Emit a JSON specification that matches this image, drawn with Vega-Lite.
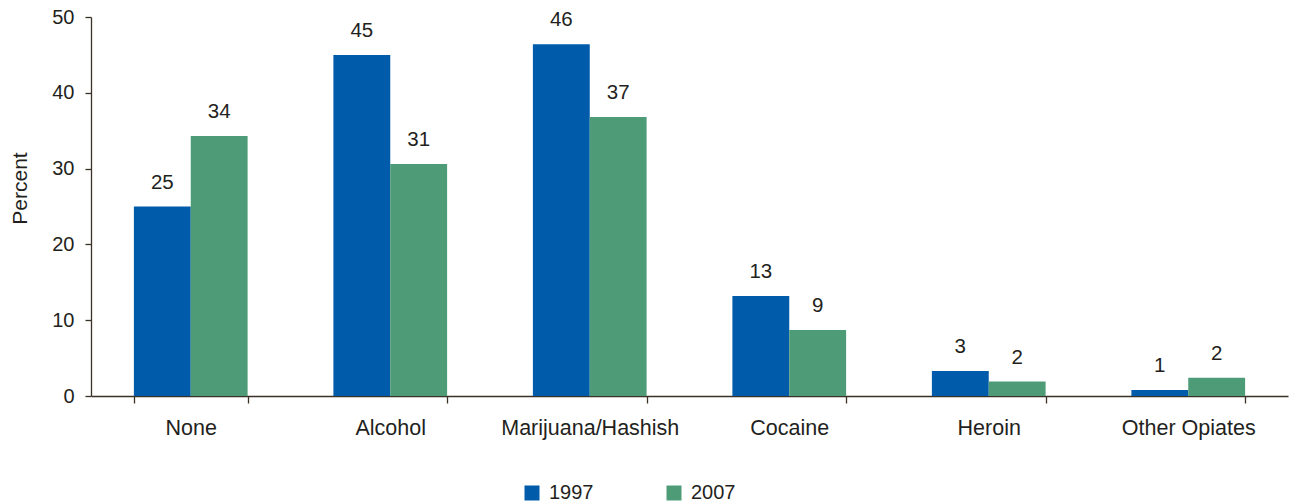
{
  "$schema": "https://vega.github.io/schema/vega-lite/v6.json",
  "autosize": "none",
  "width": 1197,
  "height": 379,
  "padding": {"left": 91, "top": 17, "right": 5, "bottom": 108},
  "background": "white",
  "config": {
    "view": {"stroke": null},
    "font": "Liberation Sans",
    "axis": {
      "labelFont": "Liberation Sans",
      "titleFont": "Liberation Sans",
      "labelColor": "#231F20",
      "titleColor": "#231F20",
      "domainColor": "#3A3226",
      "tickColor": "#3A3226",
      "domainWidth": 1.3,
      "tickWidth": 1.3,
      "grid": false
    },
    "legend": {"labelFont": "Liberation Sans", "labelColor": "#231F20"}
  },
  "data": {
    "values": [
      {"substance": "None", "year": "1997", "percent": 25.0},
      {"substance": "None", "year": "2007", "percent": 34.3},
      {"substance": "Alcohol", "year": "1997", "percent": 45.0},
      {"substance": "Alcohol", "year": "2007", "percent": 30.6},
      {"substance": "Marijuana/Hashish", "year": "1997", "percent": 46.4},
      {"substance": "Marijuana/Hashish", "year": "2007", "percent": 36.8},
      {"substance": "Cocaine", "year": "1997", "percent": 13.2},
      {"substance": "Cocaine", "year": "2007", "percent": 8.7},
      {"substance": "Heroin", "year": "1997", "percent": 3.3},
      {"substance": "Heroin", "year": "2007", "percent": 1.9},
      {"substance": "Other Opiates", "year": "1997", "percent": 0.8},
      {"substance": "Other Opiates", "year": "2007", "percent": 2.4}
    ]
  },
  "encoding": {
    "x": {
      "field": "substance",
      "type": "nominal",
      "sort": null,
      "scale": {"paddingInner": 0.43, "paddingOuter": 0.215},
      "axis": {
        "title": null,
        "labelAngle": 0,
        "labelFontSize": 21.5,
        "labelPadding": 14,
        "tickSize": 7,
        "tickBand": "extent"
      }
    },
    "xOffset": {"field": "year", "type": "nominal", "sort": ["1997", "2007"]},
    "y": {
      "field": "percent",
      "type": "quantitative",
      "scale": {"domain": [0, 50], "nice": false},
      "axis": {
        "title": "Percent",
        "titleFontSize": 21,
        "titleFontWeight": "normal",
        "titleAngle": 270,
        "titleAlign": "center",
        "titleBaseline": "middle",
        "titleX": -71,
        "titleY": 171,
        "values": [0, 10, 20, 30, 40, 50],
        "labelFontSize": 20,
        "labelPadding": 11,
        "tickSize": 6
      }
    }
  },
  "layer": [
    {
      "mark": {"type": "bar"},
      "encoding": {
        "color": {
          "field": "year",
          "type": "nominal",
          "scale": {"domain": ["1997", "2007"], "range": ["#005BAA", "#4E9B78"]},
          "legend": {
            "title": null,
            "orient": "none",
            "direction": "horizontal",
            "legendX": 431,
            "legendY": 466,
            "padding": 0,
            "symbolType": "square",
            "symbolSize": 225,
            "symbolStrokeWidth": 0,
            "labelFontSize": 20,
            "labelOffset": 7,
            "columnPadding": 70
          }
        }
      }
    },
    {
      "mark": {
        "type": "text",
        "baseline": "alphabetic",
        "dy": -18,
        "fontSize": 20.5,
        "color": "#231F20"
      },
      "encoding": {
        "text": {"field": "percent", "type": "quantitative", "format": ".0f"}
      }
    }
  ]
}
